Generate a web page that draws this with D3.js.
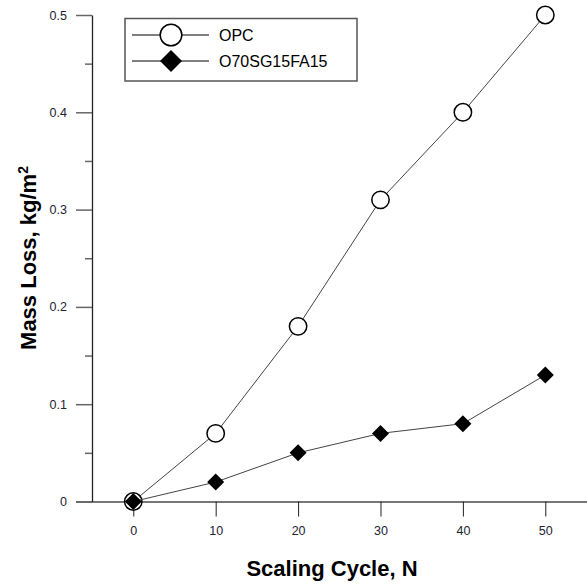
<!DOCTYPE html>
<html><head><meta charset="utf-8">
<script src="https://cdn.jsdelivr.net/npm/d3@7"></script>
<style>body{margin:0;background:#fff}svg{display:block;font-family:"Liberation Sans",Arial,sans-serif}</style>
</head><body>
<svg id="c" width="588" height="585"></svg>
<script>
const cycles = [0, 10, 20, 30, 40, 50];
const opc = [0, 0.07, 0.18, 0.31, 0.40, 0.50];
const o70 = [0, 0.02, 0.05, 0.07, 0.08, 0.13];
const seriesNames = ["OPC", "O70SG15FA15"];
const xTicks = [0, 10, 20, 30, 40, 50];
const yTicks = [0, 0.1, 0.2, 0.3, 0.4, 0.5];
const yMinorTicks = [0.05, 0.15, 0.25, 0.35, 0.45];

const svg = d3.select("#c");
const x = d3.scaleLinear().domain([-7, 55]).range([75.6, 586.5]);
const y = d3.scaleLinear().domain([0, 0.5]).range([501.5, 15]);
const x0 = 92;

// x axis
const xa = svg.append("g").attr("transform", `translate(0,${y(0)})`)
  .call(d3.axisBottom(x).tickValues(xTicks).tickSize(15).tickSizeOuter(0).tickPadding(10).tickFormat(d3.format("d")));
xa.select(".domain").attr("stroke", "#777").attr("stroke-width", 2);
xa.selectAll(".tick line").attr("stroke", "#222");
xa.selectAll(".tick text").attr("font-size", 12.5).attr("fill", "#223");

// y axis
const ya = svg.append("g").attr("transform", `translate(${x0},0)`)
  .call(d3.axisLeft(y).tickValues(yTicks).tickSize(16).tickPadding(9).tickSizeOuter(0)
    .tickFormat(d => d === 0 ? "0" : d3.format(".1f")(d)));
ya.select(".domain").attr("stroke", "#222").attr("stroke-width", 1.3);
ya.selectAll(".tick line").attr("stroke", "#666").attr("stroke-width", 1.5);
ya.selectAll(".tick text").attr("font-size", 12.5).attr("fill", "#223");
svg.append("g").attr("transform", `translate(${x0},0)`)
  .call(d3.axisLeft(y).tickValues(yMinorTicks).tickSize(7).tickFormat(""))
  .call(g => g.select(".domain").remove())
  .selectAll(".tick line").attr("stroke", "#666").attr("stroke-width", 1.5);

// titles
svg.append("text").attr("x", 332).attr("y", 576).attr("text-anchor", "middle")
  .attr("font-size", 22).attr("font-weight", "bold").text("Scaling Cycle, N");
svg.append("text").attr("transform", "translate(36,258) rotate(-90)").attr("text-anchor", "middle")
  .attr("font-size", 22).attr("font-weight", "bold")
  .html('Mass Loss, kg/m<tspan font-size="14" dy="-8">2</tspan>');

const line = d3.line().x((d, i) => x(cycles[i])).y(d => y(d));
const diamond = (r) => `M0,${-r}L${r},0L0,${r}L${-r},0Z`;

// OPC
svg.append("path").datum(opc).attr("d", line).attr("fill", "none").attr("stroke", "#444").attr("stroke-width", 1);
svg.selectAll(".opc").data(opc).join("circle").attr("class", "opc")
  .attr("cx", (d, i) => x(cycles[i])).attr("cy", d => y(d)).attr("r", 8.7)
  .attr("fill", "#fff").attr("stroke", "#000").attr("stroke-width", 1.5);

// O70
svg.append("path").datum(o70).attr("d", line).attr("fill", "none").attr("stroke", "#444").attr("stroke-width", 1);
svg.selectAll(".o70").data(o70).join("path").attr("class", "o70")
  .attr("transform", (d, i) => `translate(${x(cycles[i])},${y(d)})`)
  .attr("d", diamond(8.5)).attr("fill", "#000");

// legend
const lg = svg.append("g");
lg.append("rect").attr("x", 125).attr("y", 18.5).attr("width", 232).attr("height", 62.5)
  .attr("fill", "#fff").attr("stroke", "#555").attr("stroke-width", 1.5);
const rows = [35, 61];
rows.forEach((ry, i) => {
  lg.append("line").attr("x1", 132).attr("x2", 209).attr("y1", ry).attr("y2", ry).attr("stroke", "#000").attr("stroke-width", 1);
  if (i === 0) lg.append("circle").attr("cx", 171).attr("cy", ry).attr("r", 10.8).attr("fill", "#fff").attr("stroke", "#000").attr("stroke-width", 1.5);
  else lg.append("path").attr("transform", `translate(171,${ry})`).attr("d", diamond(11)).attr("fill", "#000");
  lg.append("text").attr("x", 219).attr("y", ry + 6).attr("font-size", 16).text(seriesNames[i]);
});
</script>
</body></html>
